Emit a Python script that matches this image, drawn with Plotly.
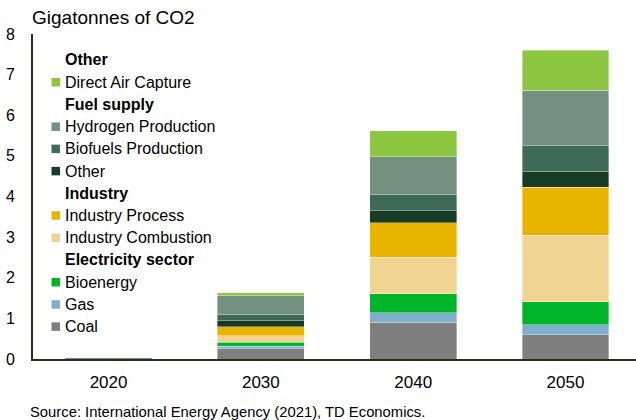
import plotly.graph_objects as go

years = ["2020", "2030", "2040", "2050"]

series_names = ["Coal", "Gas", "Bioenergy", "Industry Combustion", "Industry Process",
                "Other", "Biofuels Production", "Hydrogen Production", "Direct Air Capture"]

coal = [0.0, 0.25, 0.90, 0.60]
gas = [0.0, 0.07, 0.24, 0.24]
bioenergy = [0.0, 0.09, 0.47, 0.57]
industry_combustion = [0.0, 0.16, 0.90, 1.64]
industry_process = [0.0, 0.22, 0.84, 1.18]
other_fuel = [0.0, 0.15, 0.30, 0.38]
biofuels = [0.0, 0.15, 0.39, 0.64]
hydrogen = [0.03, 0.47, 0.94, 1.36]
dac = [0.0, 0.07, 0.64, 0.99]

series_values = [coal, gas, bioenergy, industry_combustion, industry_process,
                 other_fuel, biofuels, hydrogen, dac]

colors = ["#7f7f7f", "#80aecd", "#00b52a", "#f1d491", "#e8b400",
          "#173b24", "#3e6a56", "#74917f", "#8dc640"]

# legend rows (top to bottom): (label, bold header?, series index or None)
legend_rows = [
    ("Other", True, None),
    ("Direct Air Capture", False, 8),
    ("Fuel supply", True, None),
    ("Hydrogen Production", False, 7),
    ("Biofuels Production", False, 6),
    ("Other", False, 5),
    ("Industry", True, None),
    ("Industry Process", False, 4),
    ("Industry Combustion", False, 3),
    ("Electricity sector", True, None),
    ("Bioenergy", False, 2),
    ("Gas", False, 1),
    ("Coal", False, 0),
]

W, H = 636, 420
L, R, T, B = 33, 0, 34, 61
PW, PH = W - L - R, H - T - B

def px_x(px):
    return (px - L) / PW

def px_y(py):
    return (H - B - py) / PH

FONT = "Liberation Sans, Arial, sans-serif"

fig = go.Figure()
for name, vals, col in zip(series_names, series_values, colors):
    fig.add_trace(go.Bar(
        x=years, y=vals, name=name,
        marker=dict(color=col, line=dict(color="rgba(255,255,255,0.45)", width=0.8)),
        width=0.571, showlegend=False,
    ))

annotations = []
shapes = []
row0, step = 60.0, 22.22
for i, (label, header, idx) in enumerate(legend_rows):
    yc = row0 + step * i
    annotations.append(dict(
        x=px_x(62.5), y=px_y(yc), xref="paper", yref="paper",
        xanchor="left", yanchor="middle", showarrow=False,
        text=f"<b>{label}</b>" if header else label,
        font=dict(family=FONT, size=16, color="#000000"),
    ))
    if idx is not None:
        shapes.append(dict(
            type="rect", xref="paper", yref="paper",
            x0=px_x(51.5), x1=px_x(60), y0=px_y(yc + 4.25), y1=px_y(yc - 4.25),
            fillcolor=colors[idx], line=dict(width=0),
        ))

annotations.append(dict(
    x=px_x(30), y=px_y(17.5), xref="paper", yref="paper",
    xanchor="left", yanchor="middle", showarrow=False,
    text="Gigatonnes of CO2",
    font=dict(family=FONT, size=19, color="#000000"),
))
annotations.append(dict(
    x=px_x(28), y=px_y(411.5), xref="paper", yref="paper",
    xanchor="left", yanchor="middle", showarrow=False,
    text="Source: International Energy Agency (2021), TD Economics.",
    font=dict(family=FONT, size=14.8, color="#000000"),
))

fig.update_layout(
    width=W, height=H,
    margin=dict(l=L, r=R, t=T, b=B, pad=0),
    barmode="stack",
    plot_bgcolor="white", paper_bgcolor="white",
    font=dict(family=FONT, color="#000000"),
    annotations=annotations, shapes=shapes,
    xaxis=dict(
        type="category", range=[-0.496, 3.463],
        showline=True, linecolor="#262f1f", linewidth=2,
        showgrid=False, zeroline=False, ticks="",
        tickfont=dict(family=FONT, size=17, color="#000000"),
        ticklabelstandoff=7,
    ),
    yaxis=dict(
        range=[0, 8], dtick=1, tick0=0,
        showline=True, linecolor="#262f1f", linewidth=2,
        showgrid=False, zeroline=False, ticks="",
        tickfont=dict(family=FONT, size=16, color="#000000"),
        ticklabelstandoff=13,
    ),
)

fig.write_html("out.html")
